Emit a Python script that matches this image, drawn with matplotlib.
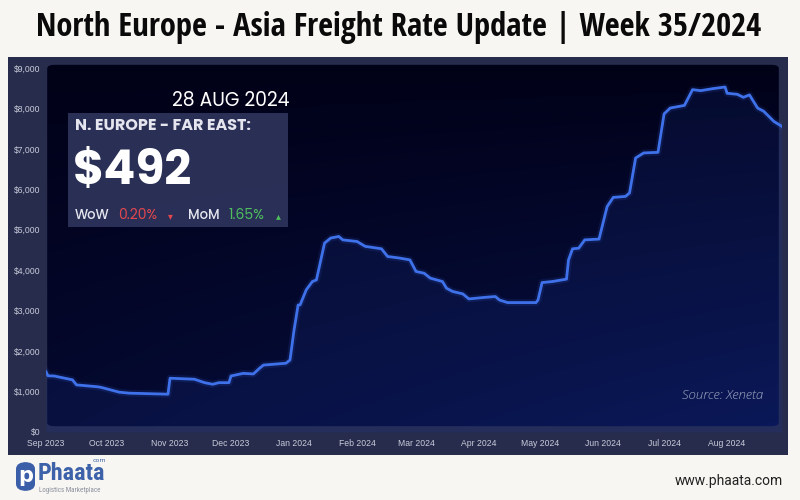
import matplotlib
matplotlib.use("Agg")
import matplotlib.pyplot as plt
import matplotlib.dates as mdates
from matplotlib.patches import FancyBboxPatch, Rectangle
import numpy as np
import pandas as pd

# ---- data ----
dates = ["2023-09-01", "2023-09-02", "2023-09-05", "2023-09-14", "2023-09-16", "2023-09-26",
         "2023-09-28", "2023-10-07", "2023-10-12", "2023-10-31", "2023-11-01", "2023-11-13",
         "2023-11-18", "2023-11-22", "2023-11-25", "2023-11-30", "2023-12-01", "2023-12-07",
         "2023-12-12", "2023-12-15", "2023-12-17", "2023-12-28", "2023-12-30", "2024-01-01",
         "2024-01-03", "2024-01-04", "2024-01-07", "2024-01-10", "2024-01-12", "2024-01-16",
         "2024-01-19", "2024-01-23", "2024-01-25", "2024-02-01", "2024-02-05", "2024-02-13",
         "2024-02-16", "2024-02-22", "2024-02-27", "2024-03-01", "2024-03-05", "2024-03-08",
         "2024-03-14", "2024-03-16", "2024-03-19", "2024-03-24", "2024-03-27", "2024-04-03",
         "2024-04-09", "2024-04-11", "2024-04-15", "2024-04-29", "2024-04-30", "2024-05-02",
         "2024-05-07", "2024-05-14", "2024-05-15", "2024-05-17", "2024-05-20", "2024-05-23",
         "2024-05-30", "2024-06-03", "2024-06-06", "2024-06-12", "2024-06-14", "2024-06-17",
         "2024-06-21", "2024-06-28", "2024-07-01", "2024-07-04", "2024-07-11", "2024-07-15",
         "2024-07-19", "2024-07-25", "2024-07-31", "2024-08-01", "2024-08-06", "2024-08-09",
         "2024-08-12", "2024-08-16", "2024-08-19", "2024-08-24", "2024-08-28"]
rates = [1490, 1390, 1385, 1290, 1165, 1120,
         1105, 985, 960, 935, 1330, 1305,
         1220, 1180, 1220, 1220, 1385, 1450,
         1435, 1575, 1655, 1700, 1780, 2520,
         3140, 3145, 3515, 3720, 3760, 4670,
         4795, 4835, 4750, 4710, 4590, 4530,
         4340, 4300, 4255, 3970, 3925, 3805,
         3720, 3555, 3475, 3415, 3290, 3325,
         3350, 3265, 3200, 3200, 3265, 3695,
         3720, 3780, 4255, 4530, 4545, 4750,
         4770, 5575, 5800, 5825, 5910, 6775,
         6900, 6915, 7865, 8010, 8075, 8465,
         8440, 8490, 8530, 8375, 8350, 8275,
         8335, 8010, 7930, 7680, 7555]
x = pd.to_datetime(dates)

yticks = [0, 1000, 2000, 3000, 4000, 5000, 6000, 7000, 8000, 9000]
month_ticks = pd.date_range("2023-09-01", "2024-08-01", freq="MS")

title = "North Europe - Asia Freight Rate Update | Week 35/2024"
box_date = "28 AUG 2024"
box_route = "N. EUROPE - FAR EAST:"
box_price = "$492"
wow = "0.20%"
mom = "1.65%"

W, H = 800, 500
COND = ["Open Sans Condensed", "Roboto Condensed", "Open Sans", "DejaVu Sans"]
POP = ["Poppins", "Inter", "DejaVu Sans"]


def px(xp, yp):
    return xp / W, 1 - yp / H


fig = plt.figure(figsize=(8, 5), dpi=100, facecolor="#f7f6f2")

# title
fig.text(*px(399, 27), title, ha="center", va="center", fontsize=23.5,
         fontweight="bold", color="#0a0a0a", family=COND)

# outer slate panel
fig.patches.append(Rectangle(px(8, 455), 780 / W, 398 / H, transform=fig.transFigure,
                             facecolor="#272c4d", edgecolor="none", zorder=0))

# inner gradient panel
bg = fig.add_axes([45 / W, 1 - 428 / H, 736 / W, 365 / H], zorder=1)
bg.set_axis_off()
gy, gx = np.mgrid[0:1:200j, 0:1:300j]
t = np.clip(0.45 * gy + 0.55 * gx * gy, 0, 1)
top = np.array([0x01, 0x01, 0x17]) / 255
bot = np.array([0x08, 0x12, 0x4c]) / 255
img = top + (bot - top) * t[..., None]
im = bg.imshow(img, extent=[0, 1, 0, 1], origin="upper", aspect="auto")
clip = FancyBboxPatch((0.003, 0.005), 0.994, 0.99, boxstyle="round,pad=0,rounding_size=0.01",
                      transform=bg.transAxes, facecolor="none", edgecolor="none")
bg.add_patch(clip)
im.set_clip_path(clip)
bg.set_xlim(0, 1)
bg.set_ylim(0, 1)

# data axes
ax = fig.add_axes([46 / W, 1 - 432 / H, 736 / W, 364 / H], zorder=2)
ax.patch.set_alpha(0)
ax.fill_between(x, 0, rates, color="#1d3c9e", alpha=0.16, lw=0, zorder=1)
ax.plot(x, rates, color="#3a6cf0", lw=5, alpha=0.12, solid_joinstyle="round", zorder=2)
ax.plot(x, rates, color="#3f72ea", lw=2, solid_joinstyle="round", zorder=3)
ax.set_xlim(pd.Timestamp("2023-09-01"), pd.Timestamp("2024-08-28"))
ax.set_ylim(0, 9000)
ax.set_yticks(yticks)
ax.set_yticklabels([f"${v:,}" for v in yticks])
ax.set_xticks(month_ticks)
ax.xaxis.set_major_formatter(mdates.DateFormatter("%b %Y"))
ax.tick_params(axis="both", length=0, labelsize=6.2, labelcolor="#c9ccd9")
ax.tick_params(axis="y", pad=4)
ax.tick_params(axis="x", pad=5)
for lab in ax.get_xticklabels() + ax.get_yticklabels():
    lab.set_family("Liberation Sans")
for s in ax.spines.values():
    s.set_visible(False)

ax.text(0.975, 0.1, "Source: Xeneta", transform=ax.transAxes, ha="right", va="center",
        fontsize=9.5, style="italic", color="#a3a9c4", family="Open Sans", fontweight="light")

# info box
fig.patches.append(Rectangle(px(68, 227), 220 / W, 114 / H, transform=fig.transFigure,
                             facecolor="#2c3259", edgecolor="none", alpha=0.95, zorder=3))
fig.text(*px(289, 101), box_date, ha="right", va="center", fontsize=13.5,
         color="white", family=POP, zorder=4)
fig.text(*px(75, 126), box_route, ha="left", va="center", fontsize=11.5,
         fontweight="bold", color="#e4e5ee", family=POP, zorder=4)
fig.text(*px(73, 173), box_price, ha="left", va="center", fontsize=34,
         fontweight="bold", color="white", family=POP, zorder=4)
fig.text(*px(75, 216), "WoW", ha="left", va="center", fontsize=9.5,
         fontweight="medium", color="#e4e5ee", family=POP, zorder=4)
fig.text(*px(118, 216), wow, ha="left", va="center", fontsize=10,
         color="#e0474f", family=POP, zorder=4)
fig.text(*px(168, 216), "\u25be", ha="left", va="center", fontsize=7,
         color="#e0474f", family="DejaVu Sans", zorder=4)
fig.text(*px(188, 216), "MoM", ha="left", va="center", fontsize=9.5,
         fontweight="medium", color="#e4e5ee", family=POP, zorder=4)
fig.text(*px(228, 216), mom, ha="left", va="center", fontsize=10,
         color="#4fbf5e", family=POP, zorder=4)
fig.text(*px(276, 216), "\u25b4", ha="left", va="center", fontsize=7,
         color="#4fbf5e", family="DejaVu Sans", zorder=4)

# footer logo
fig.patches.append(FancyBboxPatch(px(16, 491), 19 / W, 29 / H,
                                  boxstyle="round,pad=0,rounding_size=0.014",
                                  transform=fig.transFigure, facecolor="#3b5ea8",
                                  edgecolor="none", zorder=3))
fig.text(*px(25.5, 476), "p", ha="center", va="center", fontsize=15, fontweight="bold",
         color="white", family="DejaVu Sans", zorder=4)
fig.text(*px(38, 474), "Phaata", ha="left", va="center", fontsize=17.5,
         color="#3d62aa", family=["Roboto Condensed", "Roboto"], fontweight="bold", zorder=4)
fig.text(*px(93, 460), "com", ha="left", va="center", fontsize=4.5,
         color="#3d62aa", family="DejaVu Sans", zorder=4)
fig.text(*px(39, 491), "Logistics Marketplace", ha="left", va="center", fontsize=5,
         color="#8a8f9c", family=["Roboto Condensed", "Roboto"], zorder=4)
fig.text(*px(783, 481), "www.phaata.com", ha="right", va="center", fontsize=10,
         color="#222222", family="Roboto", zorder=4)

fig.savefig("out.png", dpi=100, facecolor=fig.get_facecolor())
